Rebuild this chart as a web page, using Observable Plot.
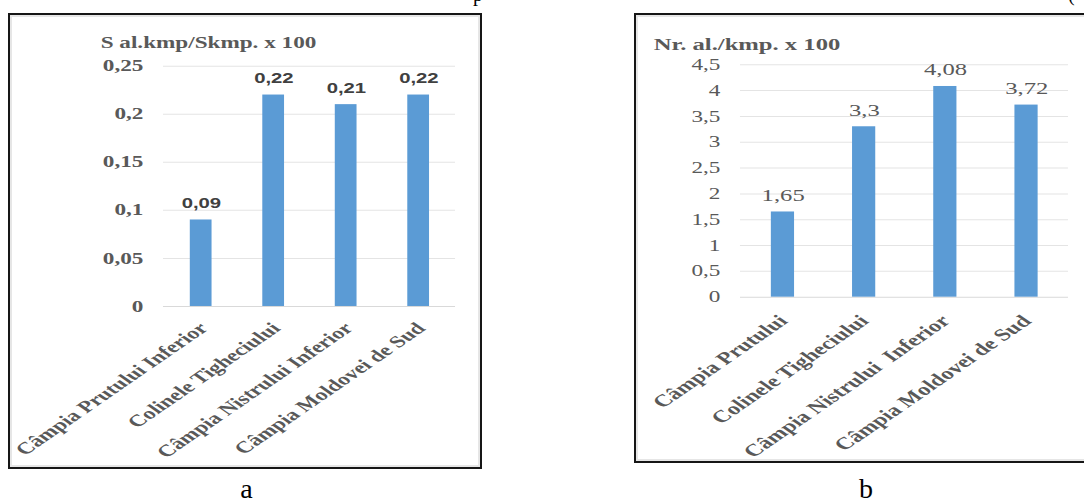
<!DOCTYPE html>
<html>
<head>
<meta charset="utf-8">
<script src="https://cdn.jsdelivr.net/npm/d3@7"></script>
<script src="https://cdn.jsdelivr.net/npm/@observablehq/plot@0.6"></script>
<style>
  html, body { margin: 0; padding: 0; background: #fff; }
  body { width: 1084px; height: 500px; position: relative; overflow: hidden; font-family: "Liberation Serif", serif; }
  .box { position: absolute; box-sizing: border-box; border: 2px solid #161616; box-shadow: inset 0 0 0 2px #e6e6e6; background: #fff; overflow: hidden; }
  #boxA { left: 8px; top: 13px; width: 474px; height: 456px; }
  #boxB { left: 634px; top: 13px; width: 480px; height: 450px; }
  /* the charts are drawn narrow and widened horizontally */
  .plot { position: absolute; left: 0; top: 0; transform-origin: 0 0; transform: scaleX(1.45); }
  .plot svg { overflow: visible; }
  .fig-label { position: absolute; font: 28px "Liberation Serif", serif; color: #000; line-height: 1; white-space: pre; }
</style>
</head>
<body>
<div class="fig-label" style="left:473px; top:-15.75px; font-size:20px;">p</div>
<div class="fig-label" style="left:1068px; top:-15.75px; font-size:20px;">(</div>

<div class="box" id="boxA"><div class="plot"></div></div>
<div class="box" id="boxB"><div class="plot"></div></div>

<div class="fig-label" id="labA" style="top:474.5px;">a</div>
<div class="fig-label" id="labB" style="top:474.5px;">b</div>

<script>
// Regions shown on the category axis of each chart
const regionsA = ["Câmpia Prutului Inferior", "Colinele Tigheciului", "Câmpia Nistrului Inferior", "Câmpia Moldovei de Sud"];
const regionsB = ["Câmpia Prutului", "Colinele Tigheciului", "Câmpia Nistrului  Inferior", "Câmpia Moldovei de Sud"];

// Chart a: S al.kmp / Skmp x 100
const valuesA = [0.09, 0.22, 0.21, 0.22];
// Chart b: Nr. al. / kmp x 100
const valuesB = [1.65, 3.3, 4.08, 3.72];

// Value-axis ticks
const ticksA = [0, 0.05, 0.1, 0.15, 0.2, 0.25];
const ticksB = [0, 0.5, 1, 1.5, 2, 2.5, 3, 3.5, 4, 4.5];

// Axis titles
const titleA = "S al.kmp/Skmp. x 100";
const titleB = "Nr. al./kmp. x 100";

const STRETCH = 1.45;
const SERIF = "'Liberation Serif', 'Times New Roman', serif";
const SANS = "'Liberation Sans', Arial, sans-serif";
const BLUE = "#5b9bd5";
const GREY = "#595959";

// decimal comma, as in the labels
const comma = v => String(v).replace(".", ",");

const rowsA = regionsA.map((region, i) => ({region, value: valuesA[i]}));
const rowsB = regionsB.map((region, i) => ({region, value: valuesB[i]}));

const chartA = Plot.plot({
  width: 470 / STRETCH,
  height: 452,
  marginLeft: 105.5,
  marginRight: 17.2,
  marginTop: 50.7,
  marginBottom: 161,
  style: {fontFamily: SERIF, color: GREY, background: "transparent", overflow: "visible"},
  x: {domain: regionsA, paddingInner: 0.7, paddingOuter: 0.35, axis: null},
  y: {domain: [0, 0.25], axis: null},
  marks: [
    Plot.ruleY(ticksA.filter(t => t > 0), {stroke: "#e4e4e4", strokeWidth: 1}),
    Plot.ruleY([0], {stroke: "#d9d9d9", strokeWidth: 1}),
    Plot.axisY(ticksA, {label: null, tickSize: 0, tickPadding: 14, tickFormat: comma, fontSize: 16, fontWeight: "bold", fontFamily: SERIF}),
    Plot.barY(rowsA, {x: "region", y: "value", fill: BLUE}),
    Plot.text(rowsA, {x: "region", y: "value", text: d => comma(d.value), lineAnchor: "bottom", dy: -12,
      fontFamily: SANS, fontWeight: "bold", fontSize: 14, fill: "#404040"}),
    Plot.text(rowsA, {x: "region", frameAnchor: "bottom", text: "region", rotate: -45, textAnchor: "end", lineAnchor: "middle",
      dx: 1.5, dy: 19, fontFamily: SERIF, fontWeight: "bold", fontSize: 16.5, fill: GREY}),
    Plot.text([titleA], {frameAnchor: "top-left", text: d => d, textAnchor: "start", lineAnchor: "bottom",
      dx: -43.5, dy: -17.7, fontFamily: SERIF, fontWeight: "bold", fontSize: 16, fill: GREY})
  ]
});

const chartB = Plot.plot({
  width: 470 / STRETCH,
  height: 446,
  marginLeft: 71.7,
  marginRight: 26.2,
  marginTop: 49.3,
  marginBottom: 164.3,
  style: {fontFamily: SERIF, color: GREY, background: "transparent", overflow: "visible", whiteSpace: "pre"},
  x: {domain: regionsB, paddingInner: 0.71, paddingOuter: 0.355, axis: null},
  y: {domain: [0, 4.5], axis: null},
  marks: [
    Plot.ruleY(ticksB.filter(t => t > 0), {stroke: "#e4e4e4", strokeWidth: 1}),
    Plot.ruleY([0], {stroke: "#d9d9d9", strokeWidth: 1}),
    Plot.axisY(ticksB, {label: null, tickSize: 0, tickPadding: 14, tickFormat: comma, fontSize: 16, fontFamily: SERIF}),
    Plot.barY(rowsB, {x: "region", y: "value", fill: BLUE}),
    Plot.text(rowsB, {x: "region", y: "value", text: d => comma(d.value), lineAnchor: "bottom", dy: -11,
      fontFamily: SERIF, fontSize: 17, fill: GREY}),
    Plot.text(rowsB, {x: "region", frameAnchor: "bottom", text: "region", rotate: -45, textAnchor: "end", lineAnchor: "middle",
      dx: 0, dy: 21, fontFamily: SERIF, fontWeight: "bold", fontSize: 17, fill: GREY}),
    Plot.text([titleB], {frameAnchor: "top-left", text: d => d, textAnchor: "start", lineAnchor: "bottom",
      dx: -60, dy: -14.3, fontFamily: SERIF, fontWeight: "bold", fontSize: 17, fill: GREY})
  ]
});

document.querySelector("#boxA .plot").append(chartA);
document.querySelector("#boxB .plot").append(chartB);

// centre the panel letters under each chart
for (const [id, cx] of [["labA", 246.5], ["labB", 866]]) {
  const el = document.getElementById(id);
  el.style.left = (cx - el.getBoundingClientRect().width / 2) + "px";
}
</script>
</body>
</html>
